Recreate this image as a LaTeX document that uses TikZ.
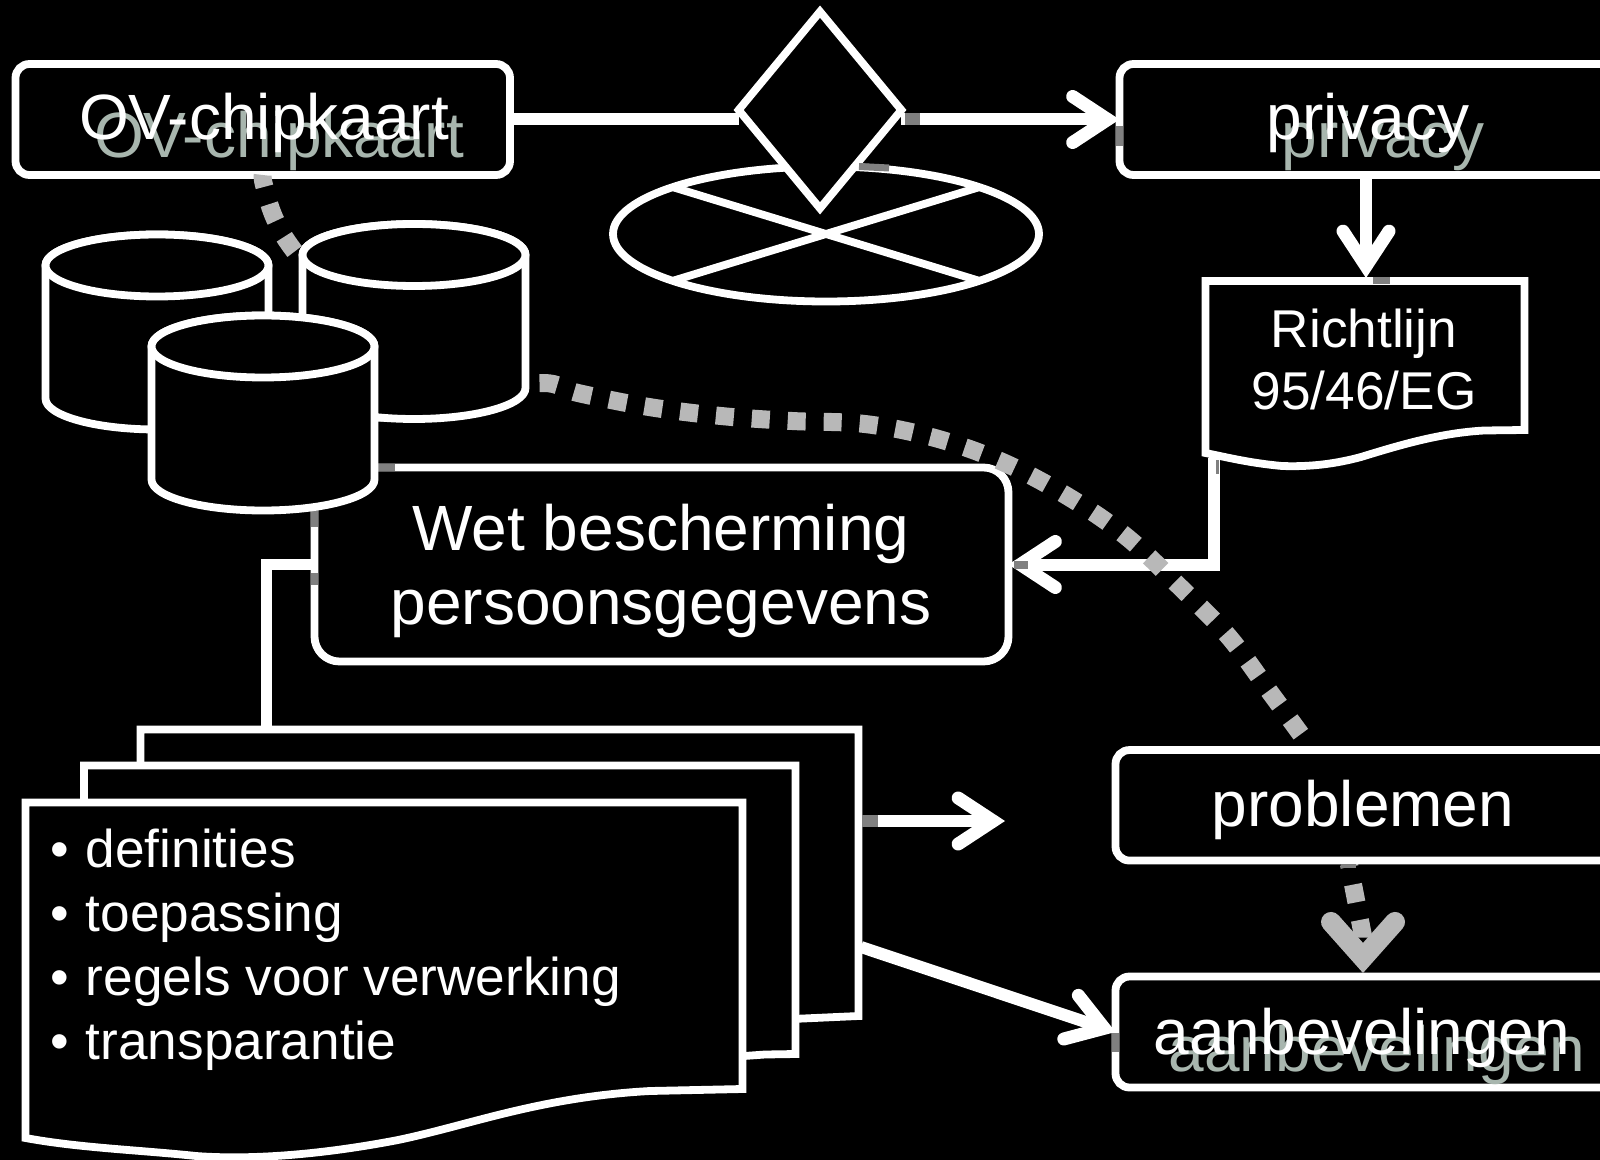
\documentclass[tikz,border=0pt]{standalone}
\usepackage{fontspec}
\setmainfont{Liberation Sans}
\usetikzlibrary{shapes.geometric,arrows.meta}
\tikzset{
  x=0.5pt,y=-0.5pt,
  outline/.style={draw=white,line width=3.9pt,fill=black,line join=miter},
  roundbox/.style={outline,rectangle,rounded corners=7pt,inner sep=0pt,outer sep=0pt},
  conn/.style={draw=white,line width=6pt},
  barb/.style={-{Straight Barb[length=17.5pt,width=23pt,line width=6.5pt,line cap=round,line join=miter]}},
  dashconn/.style={draw=dashgrey,line width=9pt,dash pattern=on 9pt off 9pt},
  stub/.style={draw=stubgrey,line cap=butt},
  big/.style={text=white,inner sep=0pt,anchor=base,font=\fontsize{32}{37}\selectfont},
  bigshadow/.style={big,text=shadowgrey},
  mid/.style={text=white,inner sep=0pt,align=center,font=\fontsize{26.6}{31}\selectfont},
  listitem/.style={text=white,inner sep=0pt,anchor=base west,font=\fontsize{26.6}{31}\selectfont},
  dbcyl/.pic={
    \draw[outline] (-111.5,0) -- (-111.5,133) arc[start angle=180,end angle=0,x radius=111.5,y radius=31] -- (111.5,0) arc[start angle=0,end angle=-180,x radius=111.5,y radius=31] -- cycle;
    \draw[outline] (0,0) ellipse[x radius=111.5,y radius=31];
  }
}
\definecolor{dashgrey}{HTML}{B8B8B8}
\definecolor{stubgrey}{HTML}{808080}
\definecolor{shadowgrey}{HTML}{A8B6AE}
\newcommand{\bul}{\makebox[17.7pt][l]{•}}
\begin{document}
\begin{tikzpicture}
\fill[black] (0,0) rectangle (1600,1160);
\useasboundingbox (0,0) rectangle (1600,1160);

% summing junction and decision
\node[outline,ellipse,minimum width=213pt,minimum height=67.5pt,inner sep=0pt] (sum) at (826,234) {};
\draw[draw=white,line width=3.9pt,shorten >=3pt,shorten <=3pt] (sum.163) -- (sum.-17);
\draw[draw=white,line width=3.9pt,shorten >=3pt,shorten <=3pt] (sum.197) -- (sum.17);
\node[outline,diamond,minimum width=83pt,minimum height=100pt,inner sep=0pt] (dec) at (820,110) {};

% boxes
\node[roundbox,minimum width=247.25pt,minimum height=55.5pt] (ov) at (262.75,119.5) {};
\node[roundbox,minimum width=262.25pt,minimum height=55.5pt] (priv) at (1381.75,119.5) {};
\node[roundbox,rounded corners=12.5pt,minimum width=347pt,minimum height=97pt] (wet) at (661.5,564.5) {};
\node[roundbox,minimum width=262.25pt,minimum height=55.5pt] (aan) at (1377.75,1032) {};

% document Richtlijn
\draw[outline] (1205.5,281) -- (1524.5,281) -- (1524.5,430) -- (1484,430.5)
  .. controls (1440,433) and (1400,445) .. (1361,457)
  .. controls (1335,464) and (1310,467) .. (1282,466)
  .. controls (1250,463) and (1230,458) .. (1205.5,453) -- cycle;
\coordinate (richtop) at (1366,278);
\coordinate (richout) at (1214,458);

% document stack
\draw[outline] (140.5,729.5) -- (858.5,729.5) -- (858.5,1016) -- (770,1020) -- (140.5,1020) -- cycle;
\draw[outline] (84,765.5) -- (795.5,765.5) -- (795.5,1054) -- (765,1054.5) -- (730,1057) -- (84,1057) -- cycle;
\draw[outline] (25.5,802.5) -- (742.5,802.5) -- (742.5,1089) -- (650,1091)
  .. controls (540,1097) and (470,1125) .. (398,1140)
  .. controls (320,1155) and (250,1160) .. (196,1156)
  .. controls (140,1150) and (80,1148) .. (25.5,1138) -- cycle;
\coordinate (stacktop) at (266.5,726);
\coordinate (stackr) at (862,821);
\coordinate (stackd) at (861,947);
\coordinate (free) at (1005,821);
\coordinate (probout) at (1349,864);
\coordinate (aanin) at (1363,973);
\coordinate (probin) at (1311,748);

% connectors
\draw[conn,shorten >=-3pt] (ov.east) -- (dec.west |- ov.east);
\draw[conn,barb,shorten <=-3pt] (dec.east |- ov.east) -- (priv.west |- ov.east);
\draw[conn,barb] (ov.east -| richtop) ++(0,55) -- (richtop);
\draw[conn,line width=5.8pt] (wet.west) -| (stacktop);
\draw[conn,barb] (richout) |- (wet.east);
\draw[conn,barb] (stackr) -- (free);
\draw[conn,barb] (stackd) -- (aan.west);

% dashed connectors
\draw[dashconn,dash phase=3pt] plot[smooth,tension=0.6] coordinates {(ov.south) (264,185) (274,217) (292,248) (335,300) (400,375) (470,392) (543,383) (578,393) (649,407) (721,416) (792,421) (865,424) (935,438) (1002.5,462) (1067,496) (1125.5,536) (1180,587) (1229,637) (1272,695) (probin)};
\draw[dashconn,dash phase=7.5pt,-{Straight Barb[length=18pt,width=32pt,line width=10pt,line cap=round,line join=miter]}] (probout) -- (1363,936) -- (aanin);
\node[roundbox,minimum width=262.25pt,minimum height=55.25pt] (prob) at (1377.75,805.3) {};

% grey stubs
\draw[stub,line width=6pt] (905,119.5) -- (920,119.5);
\draw[stub,line width=3.5pt] (1119.5,126) -- (1119.5,146);
\draw[stub,line width=3.5pt] (859,166.5) -- (889,168);
\draw[stub,line width=3.5pt] (1373,281) -- (1390,281);
\draw[stub,line width=1.5pt] (1217,460) -- (1217,474);
\draw[stub,line width=4pt] (1014,564.5) -- (1028,564.5);
\draw[stub,line width=3.5pt] (378,418.5) -- (395,418.5);
\draw[stub,line width=3.5pt] (378,467.5) -- (395,467.5);
\draw[stub,line width=3.5pt] (314.5,510) -- (314.5,527);
\draw[stub,line width=3.5pt] (314.5,573) -- (314.5,585);
\draw[stub,line width=6pt] (862,821) -- (878,821);
\draw[stub,line width=3.5pt] (1115.5,1033) -- (1115.5,1052);
\draw[stub,line width=2pt] (1341,866) -- (1356,866);

% database cylinders
\pic (dbleft) at (157,265.5) {dbcyl};
\pic (dbright) at (414,255) {dbcyl};
\pic (dbfront) at (263,346.5) {dbcyl};

% texts
\node[bigshadow] (ovs) at (279,157.5) {OV-chipkaart};
\node[big] (ovt) at (264,140) {OV-chipkaart};
\node[bigshadow] (privs) at (1383,157.5) {privacy};
\node[big] (privt) at (1368,140) {privacy};
\node[text=white,inner sep=0pt,align=center,font=\fontsize{32}{37}\selectfont] (wett) at (661,571) {Wet bescherming\\persoonsgegevens};
\node[mid] (richt) at (1364,359) {Richtlijn\\95/46/EG};
\node[big] (probt) at (1363,826) {problemen};
\node[bigshadow] (aans) at (1377,1071) {aanbevelingen};
\node[big] (aant) at (1362,1054) {aanbevelingen};
\node[listitem] (l1) at (50,867) {\bul definities};
\node[listitem] (l2) at (50,931) {\bul toepassing};
\node[listitem] (l3) at (50,995) {\bul regels voor verwerking};
\node[listitem] (l4) at (50,1059) {\bul transparantie};
\end{tikzpicture}
\end{document}
